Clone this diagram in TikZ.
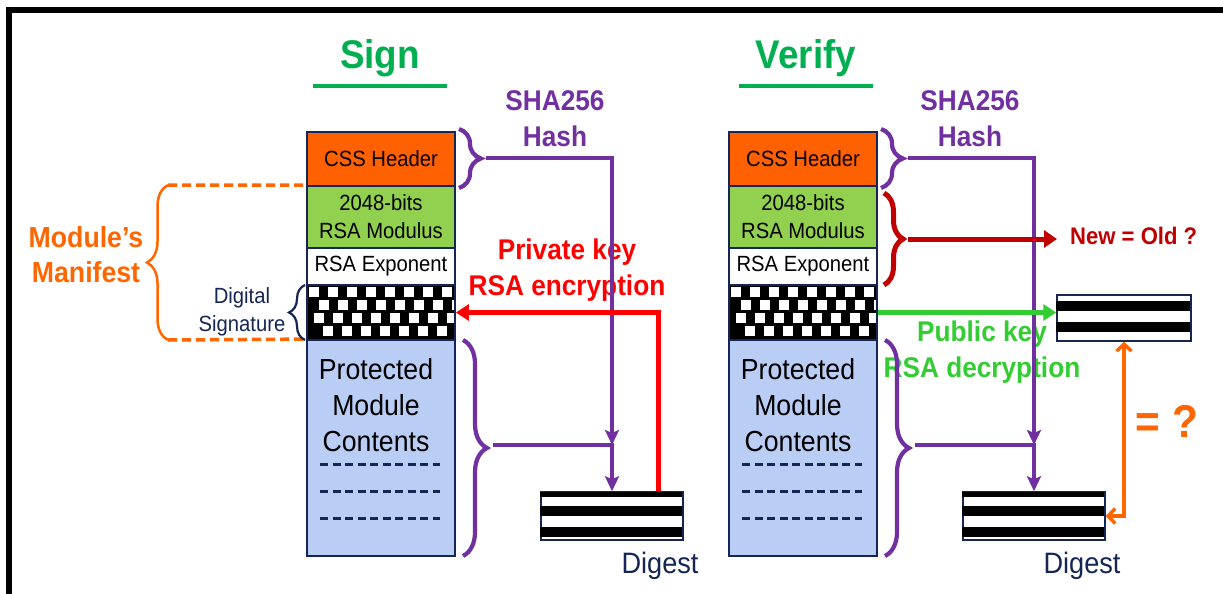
\documentclass[tikz,border=0pt]{standalone}
\usepackage{fontspec}
\setmainfont[FakeStretch=0.92]{Liberation Sans}
\usetikzlibrary{arrows.meta,decorations.pathreplacing}

\definecolor{titlegreen}{RGB}{0,176,80}
\definecolor{hashpurple}{RGB}{112,48,160}
\definecolor{keyred}{RGB}{255,0,0}
\definecolor{checkred}{RGB}{192,0,0}
\definecolor{cssorange}{RGB}{255,96,0}
\definecolor{maniorange}{RGB}{255,102,0}
\definecolor{modgreen}{RGB}{146,208,80}
\definecolor{bodyblue}{RGB}{185,205,245}
\definecolor{navy}{RGB}{22,38,84}
\definecolor{pubgreen}{RGB}{51,204,51}

\begin{document}
\begin{tikzpicture}[x=1pt, y=-1pt]
    \tikzset{field/.style={draw=navy, line width=1.8pt, minimum width=148pt, inner sep=0pt, align=center, font=\fontsize{22}{28}\selectfont}}
    \tikzset{stripes/.style={draw=navy, line width=1.5pt, fill=white, inner sep=0pt}}
    \tikzset{big text/.style={align=center, font=\bfseries\fontsize{28.5}{36}\selectfont}}
    \tikzset{hash line/.style={hashpurple, line width=4.2pt}}
    \tikzset{curly/.style={decorate, decoration={brace, amplitude=#1}}}

    \useasboundingbox (0,0) rectangle (1223,594);

    % frame
    \draw[line width=6pt] (6,10) -- (1223,10);
    \draw[line width=6pt] (9,7) -- (9,594);

    % titles
    \node[anchor=base, text=titlegreen, font=\bfseries\fontsize{40}{48}\selectfont] (title sign) at (380,68) {Sign};
    \node[anchor=base, text=titlegreen, font=\bfseries\fontsize{40}{48}\selectfont] (title verify) at (806,68) {Verify};
    \draw[titlegreen, line width=4pt] (313,86) -- (447,86);
    \draw[titlegreen, line width=4pt] (739,86) -- (873,86);

    % text: labels
    \node[big text, text=hashpurple] (hash label sign) at (555,119) {SHA256\\Hash};
    \node[big text, text=hashpurple] (hash label verify) at (970,119) {SHA256\\Hash};
    \node[big text, text=keyred] (private label) at (567,270) {Private key\\RSA encryption};
    \node[big text, text=pubgreen] (public label) at (982,352) {Public key\\RSA decryption};
    \node[big text, text=maniorange, font=\bfseries\fontsize{29}{35}\selectfont] (manifest label) at (86,255) {Module’s\\Manifest};
    \node[align=center, text=navy, font=\fontsize{22}{28}\selectfont] (signature label) at (242,312) {Digital\\Signature};
    \node[anchor=west, inner sep=0pt, text=checkred, font=\bfseries\fontsize{24}{28}\selectfont] (new old) at (1070,236) {New = Old ?};
    \node[text=maniorange, font=\bfseries\fontsize{46}{50}\selectfont] (equal label) at (1167,421) {= ?};

    % stacks, digests, hash lines
    \foreach \side/\dx in {sign/0, verify/422} {
      \begin{scope}[xshift=\dx]
        \node[field, fill=cssorange, minimum height=54pt] (css \side) at (381,159) {CSS Header};
        \node[field, fill=modgreen, minimum height=62pt] (mod \side) at (381,217) {2048-bits\\RSA Modulus};
        \node[field, fill=white, minimum height=37pt] (exp \side) at (381,266.5) {RSA Exponent};
        \node[field, fill=black, minimum height=55pt] (sig \side) at (381,312.5) {};
        \node[field, fill=bodyblue, minimum height=216pt] (body \side) at (381,448) {};
        \node[align=center, font=\fontsize{29}{36}\selectfont] (body label \side) at (376,405) {Protected\\Module\\Contents};

        % checker
        \begin{scope}
          \clip ([shift={(2,2)}]sig \side.north west) rectangle ([shift={(-2,-2)}]sig \side.south east);
          \foreach \r/\off in {0/0, 1/9.5, 2/4.5, 3/14}
            \foreach \c in {0,...,7}
              \fill[white] ([shift={(\off+3+\c*19, 3+\r*13)}]sig \side.north west) rectangle +(10,10);
        \end{scope}

        % dashes
        \foreach \dy in {125,152,179}
          \draw[navy, line width=3pt, dash pattern=on 8pt off 4.5pt] ([shift={(14,\dy)}]body \side.north west) -- +(120,0);

        % digest
        \node[stripes, minimum width=142pt, minimum height=48pt] (digest \side) at (612,516) {};
        \foreach \y/\h in {1/5, 15/10, 36/10}
          \fill[black] ([shift={(0,\y)}]digest \side.north west) rectangle +(142,\h);
        \node[anchor=base, text=navy, font=\fontsize{29.5}{34}\selectfont] (digest label \side) at (660,573) {Digest};

        % braces
        \draw[hash line, curly=22pt] (459,129) -- (459,188);
        \draw[hash line, curly=24pt] (463,340) -- (463,556);
        \coordinate (hdr tip \side) at (486,158);
        \coordinate (body tip \side) at (493,445);
        \coordinate (join \side) at (612,445);

        % hash arrows
        \begin{scope}[>={Stealth[length=15pt, width=14pt, inset=3pt]}]
          \draw[hash line, ->] (hdr tip \side) -| (join \side);
          \draw[hash line, ->] (body tip \side) -| (digest \side.north);
        \end{scope}
      \end{scope}
    }

    % private key encryption
    \draw[keyred, line width=5pt, -{Triangle[length=13pt, width=16pt]}] ([xshift=46]digest sign.north) |- (sig sign.east);

    % module's manifest
    \coordinate (manifest top) at (168,185);
    \coordinate (manifest bottom) at (168,340);
    \draw[maniorange, line width=2.5pt, curly=21pt] (manifest bottom) -- (manifest top);
    \draw[maniorange, line width=3.5pt, dash pattern=on 9pt off 5pt] (manifest top) -- (mod sign.north west);
    \draw[maniorange, line width=3.5pt, dash pattern=on 9pt off 5pt] (manifest bottom) -- (body sign.north west);
    \draw[navy, line width=2.2pt, curly=16pt] (305,340) -- (305,285);

    % key check
    \draw[checkred, line width=5pt, curly=19pt] (884,193) -- (884,285);
    \coordinate (key tip verify) at (908,239);
    \draw[checkred, line width=5pt, -{Triangle[length=13pt, width=17pt]}] (key tip verify) -- ([xshift=-13]new old.west |- key tip verify);

    % public key decryption
    \node[stripes, minimum width=134pt, minimum height=46pt] (plain verify) at (1124,318) {};
    \foreach \y in {7, 28}
      \fill[black] ([shift={(0,\y)}]plain verify.north west) rectangle +(134,10);
    \draw[pubgreen, line width=5pt, -{Triangle[length=13pt, width=16pt]}] (sig verify.east) -- (sig verify.east -| plain verify.west);

    % compare
    \draw[maniorange, line width=3.5pt, {Straight Barb[length=7pt, width=15pt]}-{Straight Barb[length=7pt, width=15pt]}] (plain verify.south) |- (digest verify.east);

\end{tikzpicture}
\end{document}
